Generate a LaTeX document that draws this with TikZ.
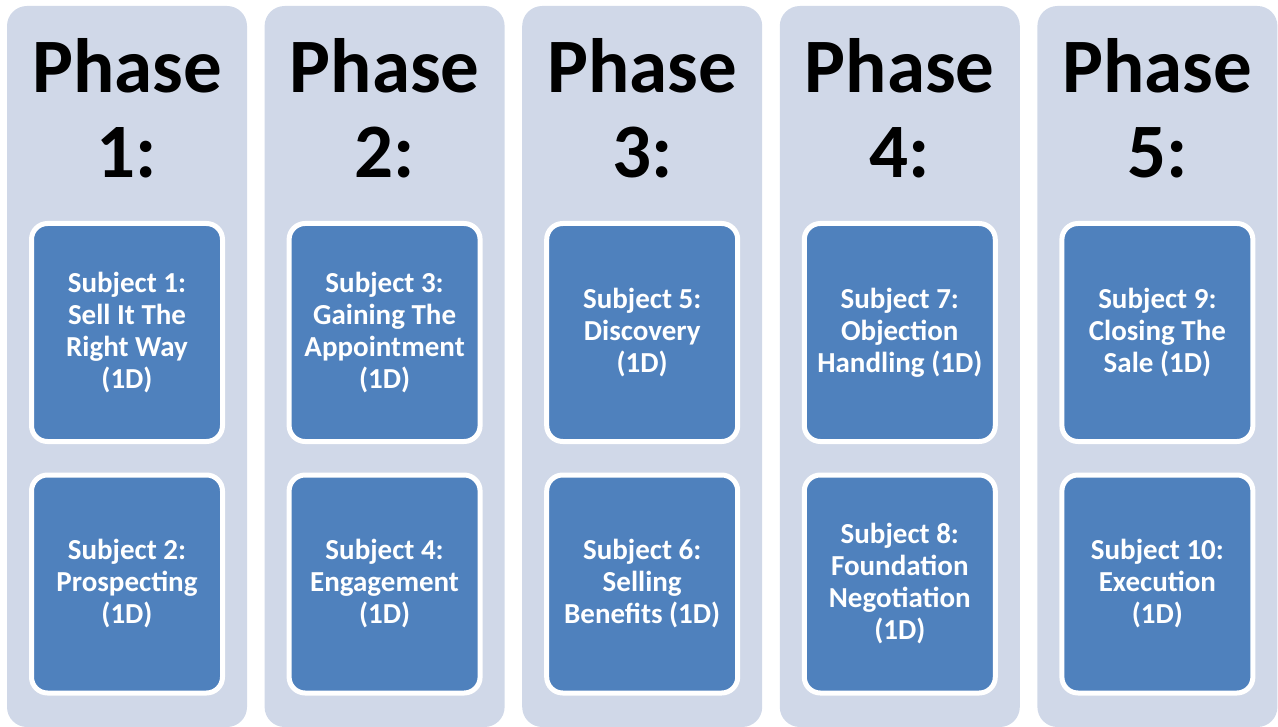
\documentclass[tikz,border=0pt]{standalone}
\usepackage{fontspec}
\setmainfont{Carlito}
\definecolor{colfill}{HTML}{D0D8E8}
\definecolor{boxfill}{HTML}{4F81BD}
\tikzset{
  column/.style={fill=colfill, draw=none, rounded corners=20pt},
  phaseword/.style={anchor=base, inner sep=0pt, font=\bfseries\fontsize{77}{85}\selectfont},
  subjectbox/.style={draw=white, line width=5pt, fill=boxfill, rounded corners=16pt,
    minimum width=191pt, minimum height=218pt, inner sep=0pt,
    text=white, align=center, font=\bfseries\fontsize{29}{32}\selectfont},
}
\begin{document}
\begin{tikzpicture}[x=1pt, y=-1pt]
  \useasboundingbox (0,0) rectangle (1278,727);
  % five phase columns
  \foreach \i in {0,...,4} {
    \pgfmathsetmacro{\xl}{7+257.6*\i}
    \fill[column] (\xl,6) rectangle (\xl+240,727);
  }
  % phase headings
  \foreach \i/\n in {0/1,1/2,2/3,3/4,4/5} {
    \pgfmathsetmacro{\xc}{127+257.6*\i}
    \node[phaseword] (ph\n) at (\xc,93) {Phase};
    \node[phaseword] (pn\n) at (\xc,178) {\n:};
  }
  % subject boxes
  \node[subjectbox] (s1) at (127,332.5) {Subject 1:\\Sell It The\\Right Way\\(1D)};
  \node[subjectbox] (s2) at (127,584) {Subject 2:\\Prospecting\\(1D)};
  \node[subjectbox] (s3) at (384.6,332.5) {Subject 3:\\Gaining The\\Appointment\\(1D)};
  \node[subjectbox] (s4) at (384.6,584) {Subject 4:\\Engagement\\(1D)};
  \node[subjectbox] (s5) at (642.2,332.5) {Subject 5:\\Discovery\\(1D)};
  \node[subjectbox] (s6) at (642.2,584) {Subject 6:\\Selling\\Benefits (1D)};
  \node[subjectbox] (s7) at (899.8,332.5) {Subject 7:\\Objection\\Handling (1D)};
  \node[subjectbox] (s8) at (899.8,584) {Subject 8:\\Foundation\\Negotiation\\(1D)};
  \node[subjectbox] (s9) at (1157.4,332.5) {Subject 9:\\Closing The\\Sale (1D)};
  \node[subjectbox] (s10) at (1157.4,584) {Subject 10:\\Execution\\(1D)};
\end{tikzpicture}
\end{document}
